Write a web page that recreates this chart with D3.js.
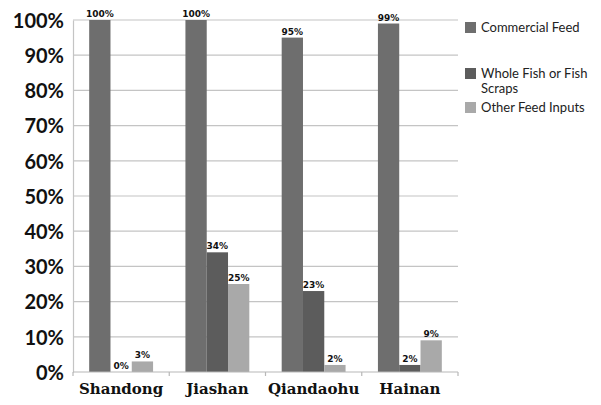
<!DOCTYPE html>
<html>
<head>
<meta charset="utf-8">
<script src="https://cdn.jsdelivr.net/npm/d3@7"></script>
<style>
  html, body { margin: 0; padding: 0; background: #fff; }
  svg { display: block; }
</style>
</head>
<body>
<svg id="chart" width="601" height="405"></svg>
<script>
// Feed sources by farming region (percent of farms)
const regions = ["Shandong", "Jiashan", "Qiandaohu", "Hainan"];
const seriesNames = ["Commercial Feed", "Whole Fish or Fish Scraps", "Other Feed Inputs"];
const commercialFeed = [100, 100, 95, 99];
const wholeFish = [0, 34, 23, 2];
const otherInputs = [3, 25, 2, 9];
const yTicks = [0, 10, 20, 30, 40, 50, 60, 70, 80, 90, 100];

const seriesValues = [commercialFeed, wholeFish, otherInputs];
const colors = ["#6e6e6e", "#5c5c5c", "#a9a9a9"];

const W = 601, H = 405;
const margin = { top: 20, right: 143, bottom: 33, left: 73 };
const svg = d3.select("#chart");

const x = d3.scaleBand().domain(regions).range([margin.left, W - margin.right]).padding(0);
const xs = d3.scaleBand().domain(seriesNames).range([0, x.bandwidth()]).paddingInner(0).paddingOuter(0.76);
const y = d3.scaleLinear().domain([0, 100]).range([H - margin.bottom, margin.top]);

// gridlines
svg.append("g")
  .selectAll("line")
  .data(yTicks.filter(t => t > 0))
  .join("line")
  .attr("x1", margin.left).attr("x2", W - margin.right)
  .attr("y1", d => y(d)).attr("y2", d => y(d))
  .attr("stroke", "#c4c4c4").attr("stroke-width", 1.2);

// y axis
const yAxis = svg.append("g")
  .attr("transform", `translate(${margin.left},0)`)
  .call(d3.axisLeft(y).tickValues(yTicks).tickFormat(d => d + "%").tickSize(0).tickPadding(9));
yAxis.select(".domain").attr("stroke", "#c4c4c4").attr("stroke-width", 1.2);
yAxis.selectAll("text")
  .attr("font-family", "Lato, 'DejaVu Sans', sans-serif")
  .attr("font-weight", "bold")
  .attr("font-size", 20)
  .attr("fill", "#111")
  .attr("dy", "0.36em");

// bars
const rows = regions.map((r, i) => ({ region: r, values: seriesNames.map((s, j) => ({ series: s, j, value: seriesValues[j][i] })) }));
const groups = svg.append("g").selectAll("g")
  .data(rows).join("g")
  .attr("transform", d => `translate(${x(d.region)},0)`);

groups.selectAll("rect")
  .data(d => d.values).join("rect")
  .attr("x", d => xs(d.series))
  .attr("width", xs.bandwidth())
  .attr("y", d => y(d.value))
  .attr("height", d => y(0) - y(d.value))
  .attr("fill", d => colors[d.j]);

groups.selectAll("text")
  .data(d => d.values).join("text")
  .attr("x", d => xs(d.series) + xs.bandwidth() / 2)
  .attr("y", d => y(d.value) - 3)
  .attr("text-anchor", "middle")
  .attr("font-family", "'DejaVu Sans', sans-serif")
  .attr("font-weight", "bold")
  .attr("font-size", 9)
  .attr("fill", "#111")
  .text(d => d.value + "%");

// x axis
const xAxis = svg.append("g")
  .attr("transform", `translate(0,${y(0)})`);
xAxis.append("line")
  .attr("x1", margin.left).attr("x2", W - margin.right)
  .attr("stroke", "#b8b8b8").attr("stroke-width", 1.2);
const bounds = regions.map(r => x(r)).concat([x(regions[regions.length - 1]) + x.bandwidth()]);
xAxis.selectAll("line.tick")
  .data(bounds).join("line")
  .attr("class", "tick")
  .attr("x1", d => d).attr("x2", d => d)
  .attr("y1", 0).attr("y2", 4)
  .attr("stroke", "#b8b8b8").attr("stroke-width", 1.2);
xAxis.selectAll("text")
  .data(regions).join("text")
  .attr("x", d => x(d) + x.bandwidth() / 2)
  .attr("y", 22)
  .attr("text-anchor", "middle")
  .attr("font-family", "'DejaVu Serif', serif")
  .attr("font-weight", "bold")
  .attr("font-size", 15)
  .attr("fill", "#111")
  .text(d => d);

// legend
const legendItems = [
  { lines: ["Commercial Feed"], y: 22 },
  { lines: ["Whole Fish or Fish", "Scraps"], y: 68 },
  { lines: ["Other Feed Inputs"], y: 102 }
];
const legend = svg.append("g").attr("transform", "translate(465,0)");
legendItems.forEach((item, i) => {
  legend.append("rect")
    .attr("x", 0).attr("y", item.y)
    .attr("width", 11).attr("height", 11)
    .attr("fill", colors[i]);
  item.lines.forEach((ln, k) => {
    legend.append("text")
      .attr("x", 16).attr("y", item.y + 10 + k * 15)
      .attr("font-family", "Lato, 'DejaVu Sans', sans-serif")
      .attr("font-size", 13)
      .attr("fill", "#222")
      .text(ln);
  });
});
</script>
</body>
</html>
